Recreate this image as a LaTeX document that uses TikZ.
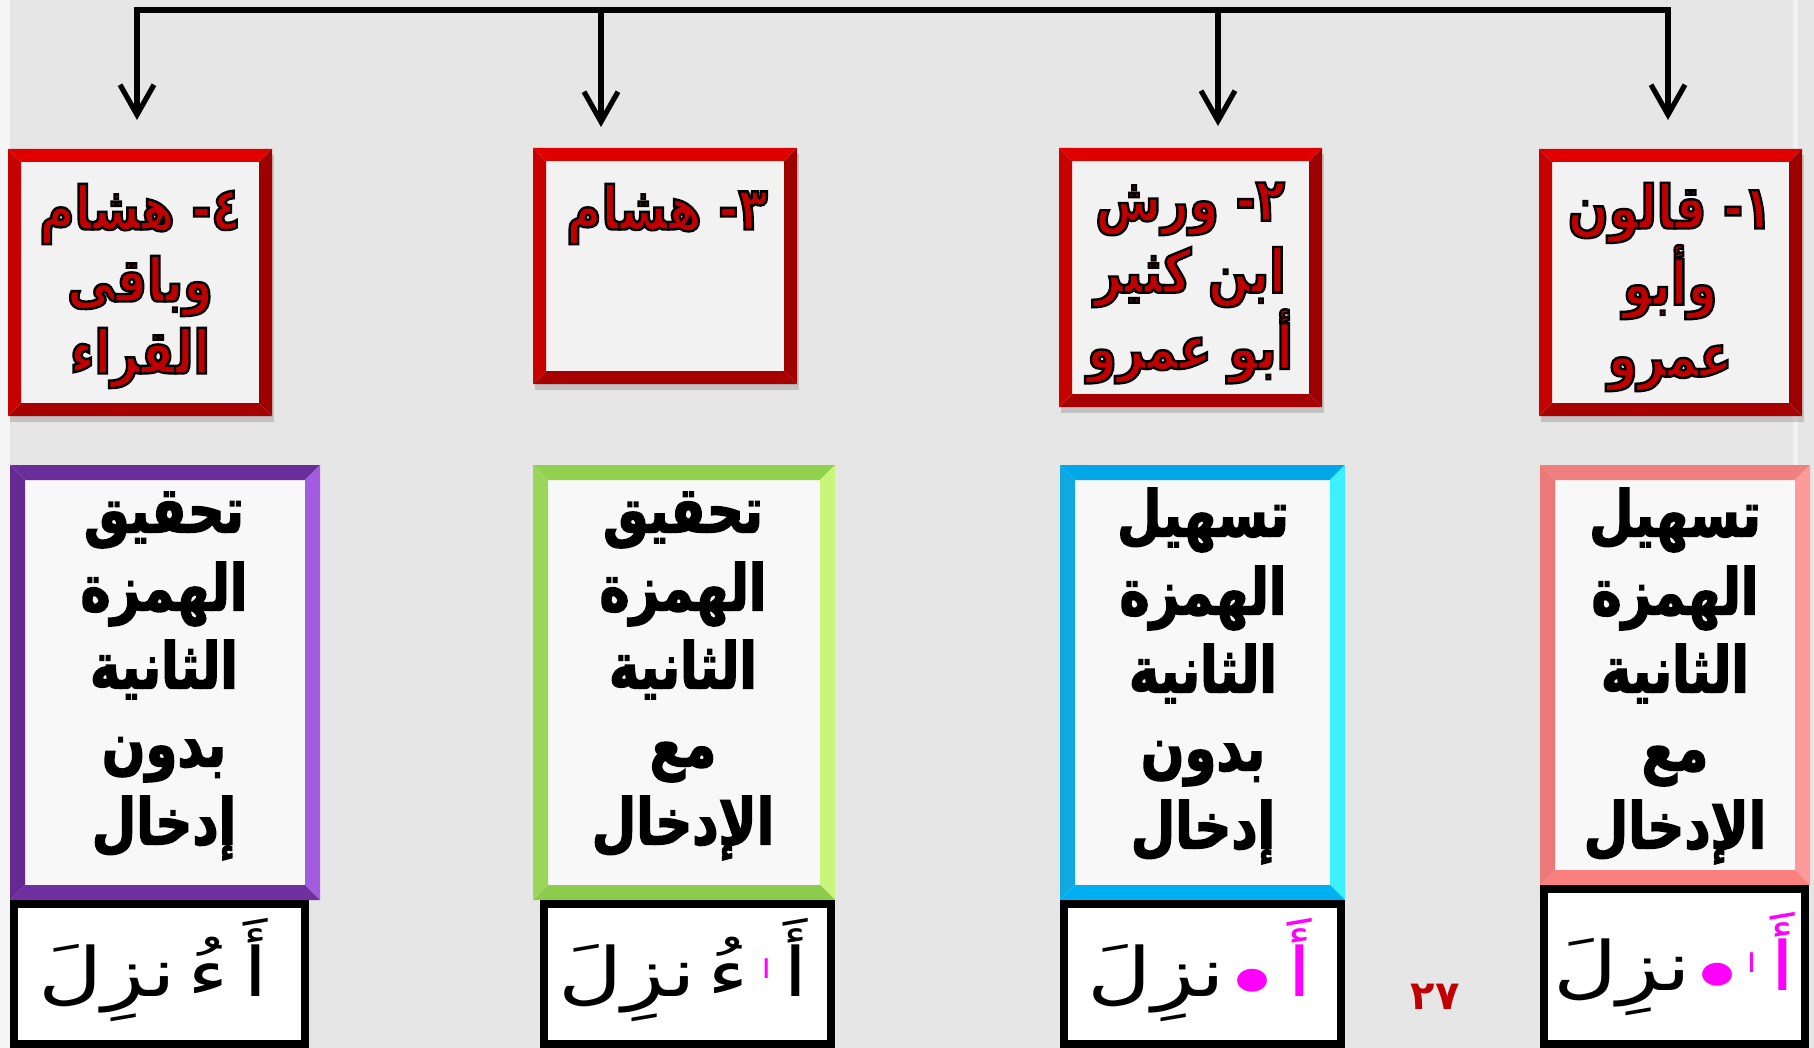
\documentclass[tikz,border=0pt]{standalone}
\usepackage{fontspec}
\usetikzlibrary{arrows.meta,shadows}
\TeXXeTstate=1
\newfontfamily\arb[Script=Arabic]{DejaVu Sans}
\newfontfamily\arbn[Script=Arabic,FakeStretch=0.8]{DejaVu Sans}
\newfontfamily\arbw[Script=Arabic,FakeStretch=1.3]{DejaVu Sans}
\newcommand\ar[1]{\beginR#1\endR}
\definecolor{bgc}{HTML}{E6E6E6}
\definecolor{tred}{HTML}{C00000}
\definecolor{rin}{HTML}{F2F2F2}
\definecolor{cin}{HTML}{F8F8F8}
\definecolor{mag}{HTML}{FF00FF}
% red text with a black outline (text render mode 2)
\newcommand\rt[1]{\textcolor{tred}{\special{pdf:literal direct 0 0 0 RG 1.2 w 2 Tr}\ar{#1}\special{pdf:literal direct 0 Tr}}}
% heavy black text
\newcommand\bt[1]{{\special{pdf:literal direct 0 0 0 RG 0.7 w 2 Tr}\ar{#1}\special{pdf:literal direct 0 Tr}}}
\newcommand\smallalif{\raisebox{9pt}{\fontsize{13}{13}\selectfont ا}}
\newcommand\magdot{\raisebox{4pt}{\fontsize{15}{15}\selectfont ●}}
% bevelled frame: node, thickness, top, right, bottom, left
\newcommand\bevel[6]{%
 \fill[#3] (#1.north west) -- (#1.north east) -- ([xshift=-#2,yshift=-#2]#1.north east) -- ([xshift=#2,yshift=-#2]#1.north west) -- cycle;
 \fill[#4] (#1.north east) -- (#1.south east) -- ([xshift=-#2,yshift=#2]#1.south east) -- ([xshift=-#2,yshift=-#2]#1.north east) -- cycle;
 \fill[#5] (#1.south east) -- (#1.south west) -- ([xshift=#2,yshift=#2]#1.south west) -- ([xshift=-#2,yshift=#2]#1.south east) -- cycle;
 \fill[#6] (#1.south west) -- (#1.north west) -- ([xshift=#2,yshift=-#2]#1.north west) -- ([xshift=#2,yshift=#2]#1.south west) -- cycle;
}
\begin{document}
\begin{tikzpicture}[x=0.5pt,y=-0.5pt,
  redbox/.style={rectangle,inner sep=0pt,outer sep=0pt,fill=rin,
    drop shadow={shadow xshift=1pt,shadow yshift=-3pt,opacity=0.35}},
  colbox/.style={rectangle,inner sep=0pt,outer sep=0pt,fill=cin},
  imgbox/.style={rectangle,inner sep=0pt,outer sep=0pt,draw=black,line width=4pt,fill=white},
  conn/.style={line width=2.6pt,black},
  arr/.style={conn,-{Straight Barb[length=15pt,width=17pt,line width=2.6pt]}},
  redtxt/.style={align=center,font=\arbn\bfseries\fontsize{30}{36}\selectfont},
  blktxt/.style={align=center,font=\arbn\bfseries\fontsize{32}{39}\selectfont,text=black},
  imgtxt/.style={font=\arbw\fontsize{34}{38}\selectfont,text=black},
  pagenum/.style={font=\arb\bfseries\fontsize{20}{22}\selectfont,text=tred}
]
\useasboundingbox (0,0) rectangle (1814,1048);
\fill[bgc] (0,0) rectangle (1814,1048);
\fill[white,opacity=0.6] (0,0) rectangle (10,1048);
\fill[white,opacity=0.5] (1793,0) rectangle (1798,1048);

% connectors
\coordinate (a4) at (137,10);
\coordinate (a3) at (601,10);
\coordinate (a2) at (1218,10);
\coordinate (a1) at (1668,10);
\coordinate (e4) at (137,120);
\coordinate (e3) at (601,127);
\coordinate (e2) at (1218,126);
\coordinate (e1) at (1668,120);
\draw[conn,line cap=rect] (a4) -- (a1);
\draw[arr] (a4) -- (e4);
\draw[arr] (a3) -- (e3);
\draw[arr] (a2) -- (e2);
\draw[arr] (a1) -- (e1);

% red boxes
\node[redbox,minimum width=132pt,minimum height=133.5pt] (r4) at (140,282.5) {};
\node[redbox,minimum width=132pt,minimum height=118pt] (r3) at (665,266) {};
\node[redbox,minimum width=131.5pt,minimum height=129.5pt] (r2) at (1190.5,277.5) {};
\node[redbox,minimum width=131.5pt,minimum height=133.5pt] (r1) at (1670.5,282.5) {};
\foreach \n in {r4,r3,r2,r1}{\bevel{\n}{6.5pt}{fill=red!88!black}{fill=red!62!black}{fill=red!65!black}{fill=red!78!black}}

% coloured boxes
\node[colbox,minimum width=155pt,minimum height=217.5pt] (p4) at (165,682.5) {};
\node[colbox,minimum width=151pt,minimum height=217.5pt] (g3) at (684,682.5) {};
\node[colbox,minimum width=142.5pt,minimum height=217.5pt] (c2) at (1202.5,682.5) {};
\node[colbox,minimum width=135pt,minimum height=210pt] (k1) at (1675,675) {};
\bevel{p4}{7.5pt}{fill={rgb,255:red,106;green,46;blue,154}}{fill={rgb,255:red,162;green,92;blue,224}}{fill={rgb,255:red,112;green,48;blue,160}}{fill={rgb,255:red,100;green,42;blue,146}}
\bevel{g3}{7.5pt}{fill={rgb,255:red,146;green,208;blue,80}}{fill={rgb,255:red,200;green,245;blue,122}}{fill={rgb,255:red,140;green,203;blue,76}}{fill={rgb,255:red,154;green,214;blue,90}}
\bevel{c2}{7.5pt}{fill={rgb,255:red,0;green,168;blue,232}}{fill={rgb,255:red,60;green,240;blue,255}}{fill={rgb,255:red,0;green,176;blue,240}}{fill={rgb,255:red,16;green,168;blue,224}}
\bevel{k1}{7.5pt}{fill={rgb,255:red,240;green,128;blue,128}}{fill={rgb,255:red,255;green,154;blue,154}}{fill={rgb,255:red,250;green,128;blue,128}}{fill={rgb,255:red,236;green,120;blue,120}}

% image boxes
\node[imgbox,minimum width=145.5pt,minimum height=70pt] (b4) at (159.5,974) {};
\node[imgbox,minimum width=143.5pt,minimum height=70pt] (b3) at (687.5,974) {};
\node[imgbox,minimum width=138.5pt,minimum height=70pt] (b2) at (1202.5,974) {};
\node[imgbox,minimum width=130.5pt,minimum height=77.5pt] (b1) at (1674.5,966.5) {};

% red box texts
\node[redtxt] (t4) at (140,286) {\rt{٤- هشام}\\\rt{وباقى}\\\rt{القراء}};
\node[redtxt] (t3) at (667,214) {\rt{٣- هشام}};
\node[redtxt] (t2) at (1190,283) {\rt{٢- ورش}\\\rt{ابن كثير}\\\rt{أبو عمرو}};
\node[redtxt] (t1) at (1670,287) {\rt{١- قالون}\\\rt{وأبو}\\\rt{عمرو}};

% coloured box texts
\node[blktxt] (u4) at (164,676) {\bt{تحقيق}\\\bt{الهمزة}\\\bt{الثانية}\\\bt{بدون}\\\bt{إدخال}};
\node[blktxt] (u3) at (683,676) {\bt{تحقيق}\\\bt{الهمزة}\\\bt{الثانية}\\\bt{مع}\\\bt{الإدخال}};
\node[blktxt] (u2) at (1203,676) {\bt{تسهيل}\\\bt{الهمزة}\\\bt{الثانية}\\\bt{بدون}\\\bt{إدخال}};
\node[blktxt] (u1) at (1675,676) {\bt{تسهيل}\\\bt{الهمزة}\\\bt{الثانية}\\\bt{مع}\\\bt{الإدخال}};

% image texts
\node[imgtxt] (q4) at (153,970) {\ar{نزِلَ}\hspace{6pt}\ar{ءُ}\hspace{7pt}\ar{أَ}};
\node[imgtxt] (q3) at (683,970) {\ar{نزِلَ}\hspace{6pt}\ar{ءُ}\hspace{6pt}\textcolor{mag}{\smallalif}\hspace{6pt}\ar{أَ}};
\node[imgtxt] (q2) at (1200,970) {\ar{نزِلَ}\hspace{5pt}\textcolor{mag}{\magdot\hspace{9pt}\ar{أَ}}};
\node[imgtxt] (q1) at (1674,964) {\ar{نزِلَ}\hspace{5pt}\textcolor{mag}{\magdot\hspace{6pt}\smallalif\hspace{7pt}\ar{أَ}}};

% page number
\node[pagenum] (pn) at (1435,997) {٢٧};
\end{tikzpicture}
\end{document}
